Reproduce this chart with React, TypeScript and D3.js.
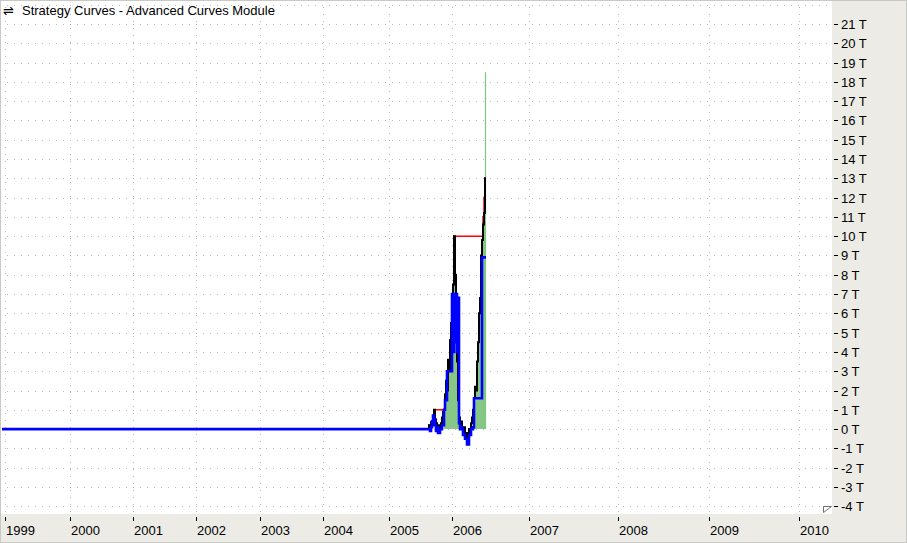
import React from "react";
import * as d3 from "d3";

// ---- data (bar index, values in trillions "T") ----
const yearLabels = ["1999","2000","2001","2002","2003","2004","2005","2006","2007","2008","2009","2010"];
const yearBars = [5, 70, 133, 196, 260, 323, 389, 452, 529, 618, 709, 799];
const yTicks = [-4,-3,-2,-1,0,1,2,3,4,5,6,7,8,9,10,11,12,13,14,15,16,17,18,19,20,21];
const gridValues = [-4,-3,-2,-1,0,1,2,3,4,5,6,7,8,9,10,11,12,13,14,15,16,17,18,19,20,21,22];

const firstBar = 2;
const activeStartBar = 428;
// closed equity (blue)
const blueValues = [0,0,-0.1,0.1,0.4,0.7,0.5,0.2,-0.1,0.1,-0.2,-0.2,0,0,0.2,0.2,1.0,1.5,1.5,3.0,3.0,3.0,3.0,3.0,7.0,4.0,7.0,4.5,7.0,4.0,6.8,0.3,0,0.1,0,-0.3,-0.3,-0.5,-0.5,-0.8,-0.8,-0.3,-0.3,0,0,0.1,1.6,1.6,1.6,1.6,1.6,1.6,1.6,1.6,8.9,8.9,8.9,8.9];
// open equity high (black)
const blackValues = [0,0.2,0.1,0.35,0.2,0.5,1.0,0.5,0.3,0.1,0.2,-0.1,0.1,0.3,0.6,0.9,1.0,1.8,2.5,2.0,3.6,3.0,4.6,5.5,4.2,7.5,10.0,8.0,6.5,3.5,1.5,0.6,0.2,0.4,0,-0.2,0.1,-0.3,-0.5,-0.2,-0.4,0,-0.2,0.3,0.6,1.0,1.6,2.2,2.0,3.5,4.5,6.0,6.8,9.0,9.8,10.6,11.2,13.0];
// peak equity (red)
const redBars = [428,429,431,434,445,446,448,450,451,453,454,483,484,485];
const redValues = [0,0.2,0.35,1.0,1.8,2.5,3.6,4.6,5.5,7.5,10.0,11.0,12.0,13.0];
// area (green)
const greenBars = [428,444,445,446,448,449,450,451,452,453,454,455,456,457,458,459,474,475,476,477,478,479,480,481,482,483,484,485];
const greenValues = [0,0.8,1.5,2.0,3.0,3.5,4.0,5.0,6.5,9.5,9.0,8.0,6.0,3.0,1.0,0,0.5,1.5,2.0,3.0,4.5,5.5,6.5,8.5,10.0,11.0,11.0,18.5];

const W = 907, H = 543;
const plotW = 832, plotH = 514;

export default function App() {
  const x = d3.scaleLinear().domain([0, 832]).range([0, plotW]);
  const y = d3.scaleLinear().domain([-4.4, 22.24]).range([plotH, 0]);

  type P = { b: number; v: number };
  const bluePts: P[] = [{ b: firstBar, v: 0 }, ...blueValues.map((v, i) => ({ b: activeStartBar + i, v }))];
  const blackPts: P[] = blackValues.map((v, i) => ({ b: activeStartBar + i, v }));
  const redPts: P[] = redBars.map((b, i) => ({ b, v: redValues[i] }));
  const greenPts: P[] = greenBars.map((b, i) => ({ b, v: greenValues[i] }));
  const ext = (arr: P[]) => [...arr, { b: arr[arr.length - 1].b + 1, v: arr[arr.length - 1].v }];
  const lastGreen = greenPts[greenPts.length - 1];

  const line = d3.line<P>().x(d => x(d.b)).y(d => y(d.v)).curve(d3.curveStepAfter);
  const area = d3.area<P>().x(d => x(d.b)).y0(y(0)).y1(d => y(d.v)).curve(d3.curveStepAfter);

  const font = "'Liberation Sans', Arial, sans-serif";

  return (
    <svg width={W} height={H} style={{ position: "absolute", left: 0, top: 0 }} xmlns="http://www.w3.org/2000/svg">
      <rect x={0} y={0} width={W} height={H} fill="#ecebe6" />
      <rect x={0} y={0} width={plotW} height={plotH} fill="#ffffff" />
      {/* grid */}
      {gridValues.map(v => (
        <line key={"h" + v} x1={0} x2={plotW} y1={Math.round(y(v)) + 0.5} y2={Math.round(y(v)) + 0.5}
          stroke="#b8b8b8" strokeWidth={1} strokeDasharray="1,6" />
      ))}
      {yearBars.map(b => (
        <line key={"v" + b} x1={Math.round(x(b)) + 0.5} x2={Math.round(x(b)) + 0.5} y1={0} y2={plotH}
          stroke="#b8b8b8" strokeWidth={1} strokeDasharray="1,6" />
      ))}
      {/* series */}
      <path d={area(greenPts.slice(0, -1).concat([{ b: lastGreen.b, v: greenPts[greenPts.length - 2].v }])) || ""} fill="#86c686" />
      <line x1={x(lastGreen.b) + 0.5} x2={x(lastGreen.b) + 0.5} y1={y(0)} y2={y(lastGreen.v)} stroke="#7cc87c" strokeWidth={1.2} />
      <path d={line(ext(redPts)) || ""} fill="none" stroke="#ff0000" strokeWidth={1.5} />
      <path d={line(ext(blackPts)) || ""} fill="none" stroke="#000000" strokeWidth={2} />
      <path d={line(ext(bluePts)) || ""} fill="none" stroke="#0000ff" strokeWidth={2.6} />
      {/* y axis */}
      {yTicks.map(v => (
        <g key={"yt" + v} transform={`translate(0,${Math.round(y(v))})`}>
          <line x1={834} x2={838} y1={0.5} y2={0.5} stroke="#000" />
          <text x={841} y={5} fontFamily={font} fontSize={13} fill="#000">{`${v} T`}</text>
        </g>
      ))}
      {/* x axis */}
      {yearBars.map((b, i) => (
        <g key={"xt" + b} transform={`translate(${Math.round(x(b))},0)`}>
          <line x1={0.5} x2={0.5} y1={517} y2={521} stroke="#000" />
          <text x={1} y={535} fontFamily={font} fontSize={13} fill="#000">{yearLabels[i]}</text>
        </g>
      ))}
      {/* corner marker */}
      <path d="M823.5,506.5 L831.5,506.5 L823.5,512.5 Z" fill="#fff" stroke="#707070" strokeWidth={1} />
      {/* title */}
      <text x={3} y={15} fontFamily="'DejaVu Sans', sans-serif" fontSize={13} fill="#000">⇌</text>
      <text x={22} y={15} fontFamily={font} fontSize={13} fill="#000">Strategy Curves - Advanced Curves Module</text>
      <rect x={0.5} y={0.5} width={W - 1} height={H - 1} fill="none" stroke="#c8c8c4" />
    </svg>
  );
}
